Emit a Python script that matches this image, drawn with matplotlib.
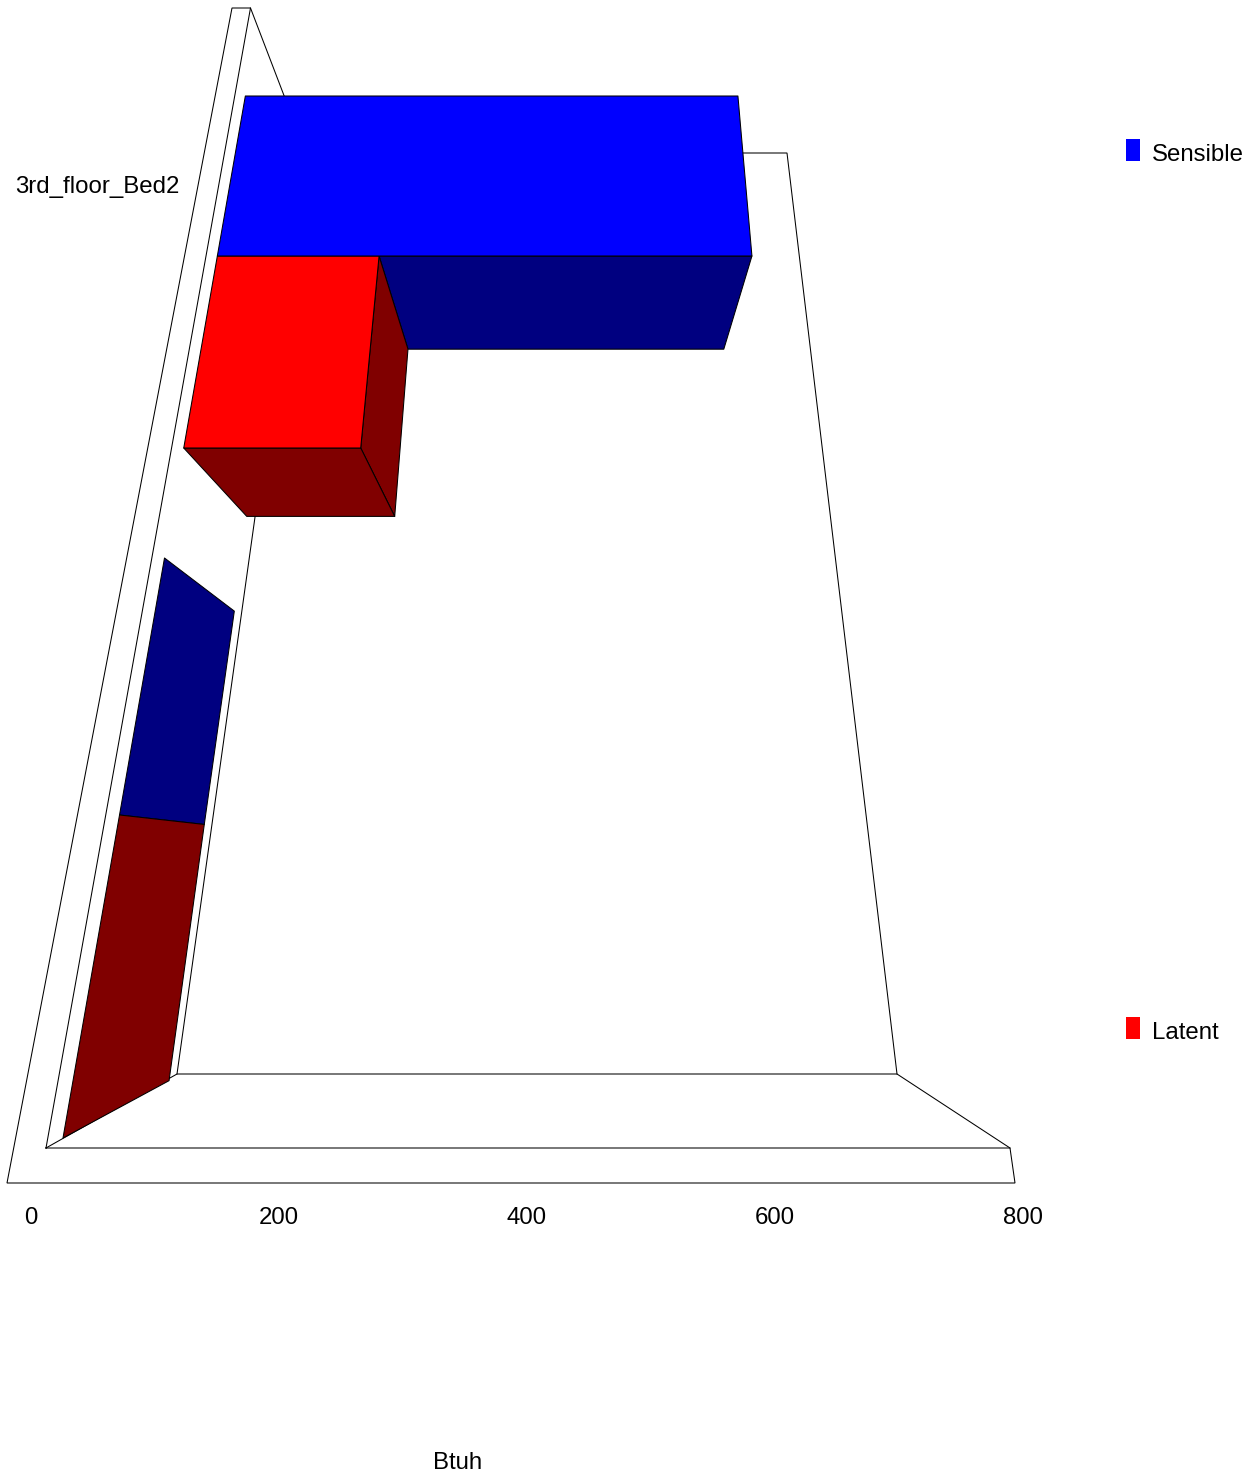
import matplotlib
matplotlib.use('Agg')
import matplotlib.pyplot as plt
from matplotlib.patches import Polygon, Rectangle

plt.rcParams['font.family'] = ['Liberation Sans', 'DejaVu Sans']

categories = ['3rd_floor_Bed2']
series_names = ['Sensible', 'Latent']
sensible = [638]
latent = [193]
tick_values = [0, 200, 400, 600, 800]
axis_title = 'Btuh'

BLUE, NAVY = '#0000ff', '#000080'
RED, MAROON = '#ff0000', '#800000'

# perspective set-up, all in image pixels
VP_DEPTH = (568, 865)    # bars recede towards this point
VP_UP_Y = -1780          # front plane narrows towards this height
FRONT_Y = 1148
PX_PER_UNIT = 1.205      # at the front edge of the floor


def front(v, y):
    # value v at picture height y on the plane of the bar fronts
    left = 63 + 0.175 * (1138 - y)
    scale = PX_PER_UNIT * (y - VP_UP_Y) / (FRONT_Y - VP_UP_Y)
    return (left + v * scale, y)


def back(p, k):
    return (VP_DEPTH[0] + k * (p[0] - VP_DEPTH[0]),
            VP_DEPTH[1] + k * (p[1] - VP_DEPTH[1]))


def face(pts, color, z):
    ax.add_patch(Polygon(pts, closed=True, facecolor=color, edgecolor='black',
                         linewidth=0.75, joinstyle='round', zorder=z))


def line(pts):
    xs, ys = zip(*pts)
    ax.plot(xs, ys, color='black', lw=0.75, solid_joinstyle='miter', zorder=1)


fig = plt.figure(figsize=(12.58, 14.75), dpi=100)
ax = fig.add_axes([0, 0, 1, 1])
ax.set_xlim(0, 1258)
ax.set_ylim(1475, 0)
ax.axis('off')

# walls and floor
line([(46, 1148), (250.5, 8), (232, 8), (7, 1183), (1015, 1183),
      (1010, 1148), (46, 1148)])
line([(46, 1148), (177, 1074), (897, 1074), (1010, 1148)])
line([(250.5, 8), (306, 153), (787, 153), (897, 1074)])
line([(177, 1074), (306, 153)])

s, l = sensible[0], latent[0]
TOP_Y, MID_Y, LOW_Y = 96, 256, 448

# odd side faces down the left wall
a, b, c = front(0, 558), front(0, 815), front(0, 1138)
face([a, back(a, 0.827), back(b, 0.811), b], NAVY, 2)
face([b, back(b, 0.811), back(c, 0.79), c], MAROON, 2)

# latent bar
p1, p2 = front(0, LOW_Y), front(l, LOW_Y)
p3, p4 = front(l, MID_Y), front(0, MID_Y)
KL = 0.836
# sensible bar
q1, q2 = front(0, MID_Y), front(s, MID_Y)
q3, q4 = front(s, TOP_Y), front(0, TOP_Y)
KS = 0.847

face([p3, q2, back(q2, KS), back(p3, KS)], NAVY, 3)
face([p2, p3, back(p3, KS), back(p2, KL)], MAROON, 4)
face([p1, p2, back(p2, KL), back(p1, KL)], MAROON, 4)
face([p1, p2, p3, p4], RED, 5)
face([q1, q2, q3, q4], BLUE, 5)

ax.text(15, 187, categories[0], fontsize=17.3, ha='left', va='center')

for v in tick_values:
    ax.text(31 + v * 1.24, 1218, str(v), fontsize=17.3, ha='center', va='center')
ax.text(458, 1463, axis_title, fontsize=17.3, ha='center', va='center')

# legend
for name, color, y in zip(series_names, [BLUE, RED], [150, 1028]):
    ax.add_patch(Rectangle((1126, y - 11), 14, 22, facecolor=color, edgecolor='none'))
    ax.text(1152, y + 5, name, fontsize=17.3, ha='left', va='center')

fig.savefig('out.png', dpi=100)
